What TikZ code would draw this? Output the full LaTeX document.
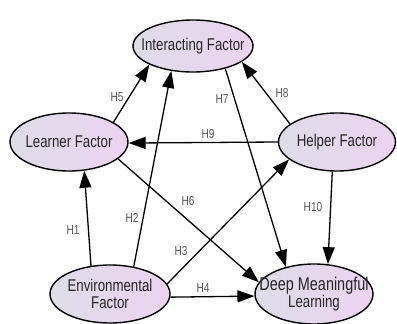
\documentclass[tikz,border=0pt]{standalone}
\usepackage{fontspec}
\setmainfont{Liberation Sans}[FakeStretch=0.78]
\usetikzlibrary{shapes.geometric,arrows.meta}
\definecolor{elleft}{HTML}{DDDDE8}
\definecolor{elright}{HTML}{EDD3F1}
\definecolor{txtdark}{HTML}{262626}
\definecolor{hgray}{HTML}{555555}
\tikzset{
  factor/.style={ellipse, draw=black, line width=1.4pt, inner sep=0pt,
    left color=elleft, right color=elright},
  ftext/.style={font=\fontsize{17}{17.5}\selectfont, text=txtdark, align=center, inner sep=0pt},
  hyp/.style={draw=black, line width=1.3pt, -{Triangle[length=17pt,width=12pt]}},
  hlab/.style={font=\fontsize{13}{13}\selectfont, text=hgray, inner sep=0pt},
}
\begin{document}
\begin{tikzpicture}[x=1pt,y=-1pt]
\useasboundingbox (0,0) rectangle (397,324);
\node[factor, minimum width=120pt, minimum height=52pt] (int) at (193,46) {};
\node[ftext] at (int) {Interacting Factor};
\node[factor, minimum width=118pt, minimum height=58pt] (lea) at (69,142) {};
\node[ftext] at (lea) {Learner Factor};
\node[factor, minimum width=117pt, minimum height=58pt] (hel) at (337,142) {};
\node[ftext] at (hel) {Helper Factor};
\node[factor, minimum width=120pt, minimum height=58pt] (env) at (110,294) {};
\node[ftext] at (env) {Environmental\\[-1pt]Factor};
\node[factor, minimum width=118pt, minimum height=60pt] (dml) at (314,294) {};
\node[ftext] at (dml) {{\fontsize{18.5}{18.5}\selectfont Deep Meaningful}\\[-1pt]Learning};

\draw[hyp] (env.124.6) -- (lea.-62);
\draw[hyp] (env.49) -- (int.-131.5);
\draw[hyp] (env.10) -- (hel.-160.7);
\draw[hyp] (env.-3) -- (dml.-178);
\draw[hyp] (lea.24) -- (int.-157.6);
\draw[hyp] (lea.-19) -- (dml.168);
\draw[hyp] (int.-35) -- (dml.136.7);
\draw[hyp] (hel.159) -- (int.-18.4);
\draw[hyp] (hel.180) -- (lea.-1);
\draw[hyp] (hel.-99.5) -- (dml.65);

\node[hlab] (h1) at (73,230) {H1};
\node[hlab] (h2) at (132,218) {H2};
\node[hlab] (h3) at (181,251) {H3};
\node[hlab] (h4) at (203,288) {H4};
\node[hlab] (h5) at (117,97) {H5};
\node[hlab] (h6) at (188,201) {H6};
\node[hlab] (h7) at (222,99) {H7};
\node[hlab] (h8) at (282,93) {H8};
\node[hlab] (h9) at (208,134) {H9};
\node[hlab] (h10) at (313,207) {H10};
\end{tikzpicture}
\end{document}
